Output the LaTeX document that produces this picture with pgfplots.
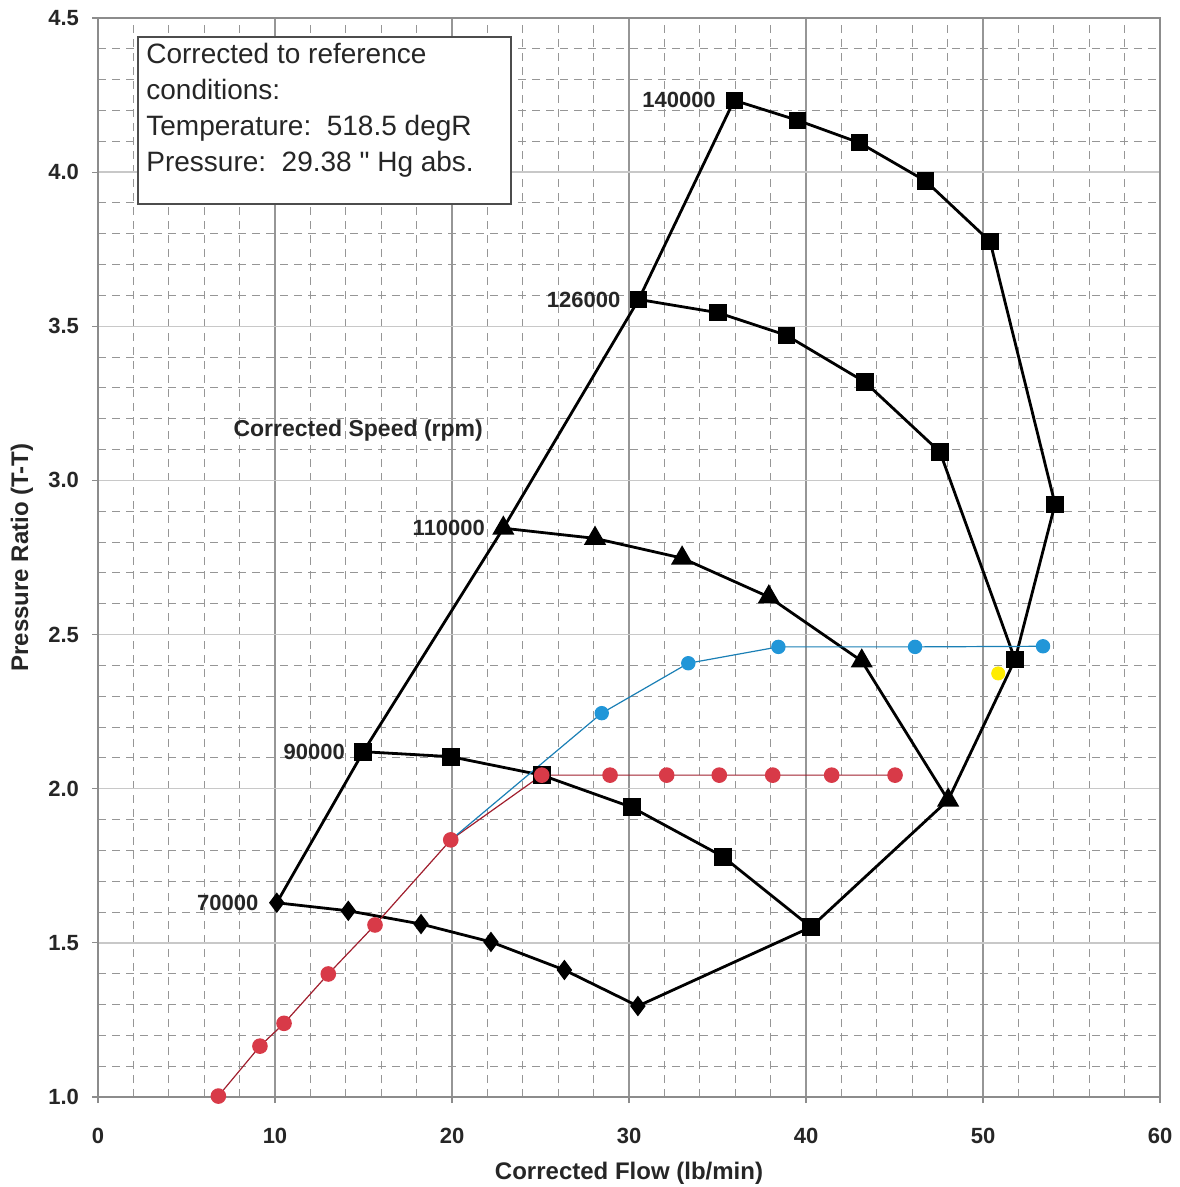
\documentclass[border=0pt]{standalone}
\usepackage{fontspec}
\setmainfont{Liberation Sans}
\newfontfamily\qfont[Ligatures=TeXOff]{Liberation Sans}
\usepackage{pgfplots}
\pgfplotsset{compat=1.18}
\definecolor{majx}{RGB}{150,150,150}
\definecolor{majy}{RGB}{200,200,200}
\definecolor{mingrid}{RGB}{150,150,150}
\definecolor{axgray}{RGB}{140,140,140}
\definecolor{redfill}{RGB}{216,58,72}
\definecolor{redline}{RGB}{160,30,45}
\definecolor{bluefill}{RGB}{33,150,216}
\definecolor{blueline}{RGB}{26,127,181}
\definecolor{yel}{RGB}{255,236,0}
\begin{document}
\begin{tikzpicture}
\begin{axis}[
  scale only axis,
  width=531pt, height=539.5pt,
  xmin=0, xmax=60, ymin=1.0, ymax=4.5,
  xtick={0,10,...,60},
  ytick={1.0,1.5,...,4.5},
  minor x tick num=4,
  minor y tick num=4,
  grid=both,
  major x grid style={draw=majx, line width=0.6pt},
  major y grid style={draw=majy, line width=0.7pt},
  minor grid style={draw=mingrid, line width=0.5pt, dash pattern=on 4pt off 3pt},
  axis line style={draw=axgray, line width=0.7pt},
  tick align=outside,
  xtick pos=left, ytick pos=left,
  major tick length=3pt, minor tick length=0pt,
  tick style={draw=axgray, line width=0.6pt},
  /pgf/number format/assume math mode=true,
  ticklabel style={font=\bfseries\fontsize{11}{13}\selectfont, text=black!85},
  xticklabel style={yshift=-9pt},
  yticklabel style={xshift=-3pt, /pgf/number format/.cd, fixed, fixed zerofill, precision=1},
  xlabel={Corrected Flow (lb/min)},
  ylabel={Pressure Ratio (T-T)},
  every axis x label/.style={at={(axis description cs:0.5,-0.0704)}, anchor=center, font=\bfseries\fontsize{12}{14}\selectfont, text=black!85},
  every axis y label/.style={at={(axis description cs:-0.0716,0.5)}, rotate=90, anchor=center, font=\bfseries\fontsize{12}{14}\selectfont, text=black!85},
  clip=false,
]
% surge line
\addplot[black, line width=1.4pt] coordinates {(10.1,1.630) (14.99,2.120) (22.9,2.845) (30.55,3.587) (35.94,4.233)};
% choke line
\addplot[black, line width=1.4pt] coordinates {(30.5,1.295) (40.28,1.551) (48.03,1.963) (51.81,2.419) (54.07,2.923)};
% 70000
\addplot[black, line width=1.4pt, mark=diamond*, mark size=4pt] coordinates {(10.1,1.630) (14.14,1.604) (18.25,1.561) (22.2,1.503) (26.35,1.412) (30.5,1.295)};
% 90000
\addplot[black, line width=1.4pt, mark=square*, mark size=3.8pt] coordinates {(14.99,2.120) (19.92,2.104) (25.07,2.044) (30.15,1.940) (35.3,1.780) (40.28,1.551)};
% 110000
\addplot[black, line width=1.4pt, mark=triangle*, mark size=5pt] coordinates {(22.9,2.845) (28.08,2.812) (33.0,2.748) (37.9,2.622) (43.15,2.414) (48.03,1.963)};
% 126000
\addplot[black, line width=1.4pt, mark=square*, mark size=3.6pt] coordinates {(30.55,3.587) (35.03,3.544) (38.88,3.471) (43.33,3.319) (47.57,3.092) (51.81,2.419)};
\addplot[black, only marks, mark=x, mark size=5pt, mark options={line width=1.6pt}] coordinates {(30.55,3.587) (35.03,3.544) (38.88,3.471) (43.33,3.319) (47.57,3.092)};
% 140000
\addplot[black, line width=1.4pt, mark=square*, mark size=3.6pt] coordinates {(35.94,4.233) (39.53,4.168) (43.03,4.095) (46.76,3.971) (50.4,3.775) (54.07,2.923)};
\addplot[black, only marks, mark=x, mark size=5pt, mark options={line width=1.6pt}] coordinates {(35.94,4.233) (39.53,4.168) (43.03,4.095) (46.76,3.971) (50.4,3.775) (54.07,2.923)};
% red operating line
\addplot[redline, line width=0.6pt, mark=*, mark size=3.6pt, mark options={draw=redfill, fill=redfill}] coordinates {(6.80,1.003) (9.15,1.165) (10.51,1.239) (13.01,1.399) (15.65,1.558) (19.93,1.834) (25.07,2.044) (28.93,2.044) (32.13,2.044) (35.1,2.044) (38.12,2.044) (41.45,2.044) (45.03,2.044)};
% blue operating line
\addplot[blueline, line width=0.6pt, mark=*, mark size=3.3pt, mark options={draw=bluefill, fill=bluefill}, mark indices={2,3,4,5,6}] coordinates {(19.93,1.834) (28.46,2.245) (33.35,2.407) (38.44,2.46) (46.16,2.46) (53.39,2.462)};
% yellow point
\addplot[only marks, mark=*, mark size=3.3pt, mark options={draw=yel, fill=yel}] coordinates {(50.86,2.374)};
% speed labels
\begin{scope}[every node/.style={font=\bfseries\fontsize{11}{13}\selectfont, text=black!85, anchor=east, inner sep=0pt}]
\node at (axis cs:35.94,4.233) [xshift=-9pt] {140000};
\node at (axis cs:30.55,3.587) [xshift=-9pt] {126000};
\node at (axis cs:22.9,2.845) [xshift=-9pt] {110000};
\node at (axis cs:14.99,2.120) [xshift=-9pt] {90000};
\node at (axis cs:10.1,1.630) [xshift=-9pt] {70000};
\end{scope}
\node[font=\bfseries\fontsize{11.5}{13}\selectfont, text=black!85, anchor=center, inner sep=0pt] at (axis cs:14.7,3.163) {Corrected Speed (rpm)};
% note box
\draw[draw=black!70, line width=1.3pt, fill=white] (axis cs:2.26,3.897) rectangle (axis cs:23.33,4.438);
\node[anchor=north west, align=left, inner sep=0pt, font=\fontsize{14}{18}\selectfont, text=black!85] at (axis cs:2.71,4.42)
 {Corrected to reference\\conditions:\\Temperature:\ \ 518.5 degR\\Pressure:\ \ 29.38 {\qfont"} Hg abs.};
\end{axis}
\pgfresetboundingbox
\path (current axis.south west) ++(-49pt,-45pt);
\path (current axis.north east) ++(10pt,9pt);
\end{tikzpicture}
\end{document}
